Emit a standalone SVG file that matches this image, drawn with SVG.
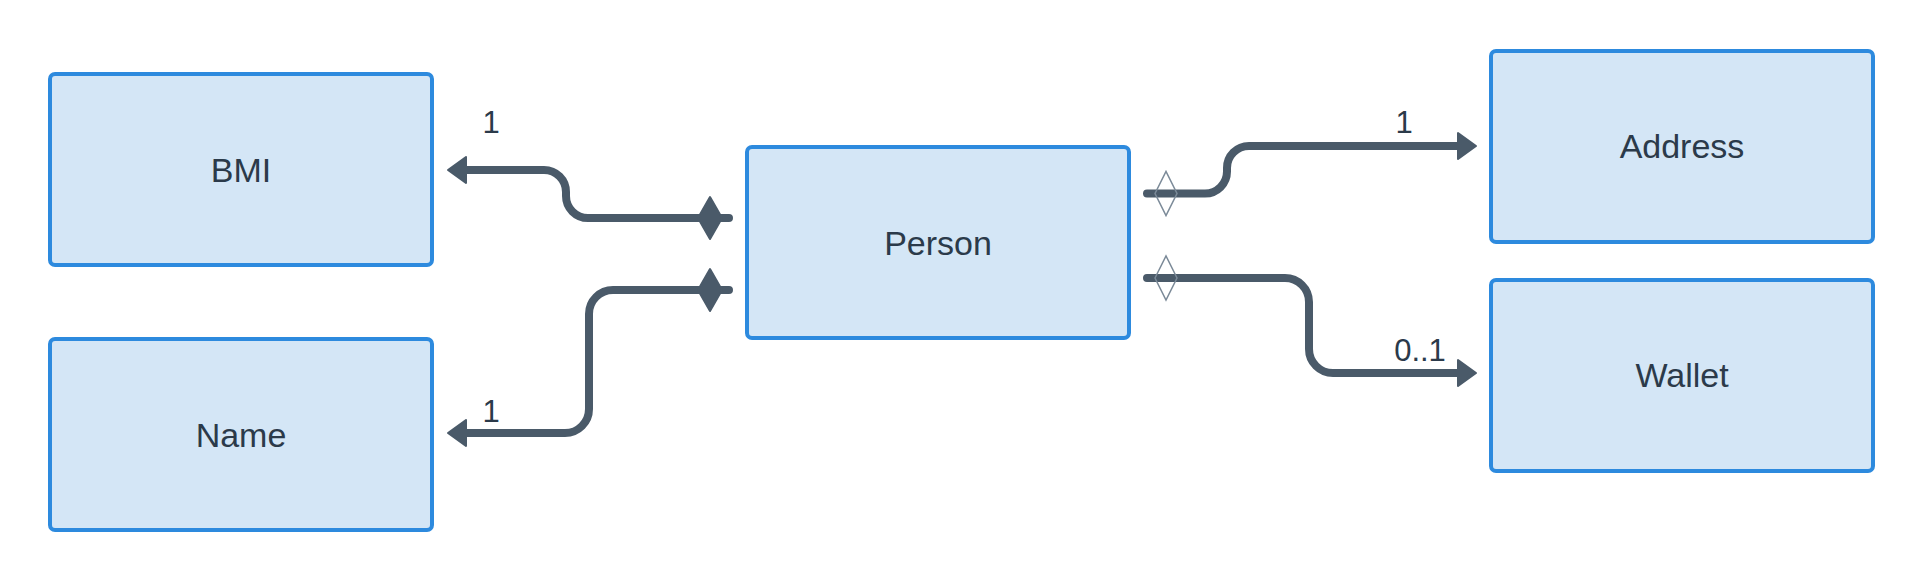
<svg xmlns="http://www.w3.org/2000/svg" width="1924" height="580" viewBox="0 0 1924 580">
<style>
.box{fill:#d4e6f6;stroke:#2d8ade;stroke-width:4}
.lbl{font-family:"Liberation Sans",Arial,sans-serif;font-size:34px;fill:#2b3a4a;text-anchor:middle}
.mult{font-family:"Liberation Sans",Arial,sans-serif;font-size:31px;fill:#2b3a4a;text-anchor:middle}
.conn{fill:none;stroke:#4a5a69;stroke-width:8;stroke-linecap:round;stroke-linejoin:round}
</style>
<defs>
<marker id="arrow" markerUnits="userSpaceOnUse" markerWidth="40" markerHeight="40" viewBox="-10 -20 30 40" refX="0" refY="0" orient="auto" overflow="visible">
<path d="M14,0 L-4,-13 L-4,13 Z" fill="#4a5a69" stroke="#4a5a69" stroke-width="2" stroke-linejoin="round"/>
</marker>
<marker id="diamondFilled" markerUnits="userSpaceOnUse" markerWidth="60" markerHeight="60" viewBox="-5 -30 50 60" refX="0" refY="0" orient="auto" overflow="visible">
<path d="M7,0 L19,-21 L31,0 L19,21 Z" fill="#4a5a69" stroke="#4a5a69" stroke-width="2" stroke-linejoin="round"/>
</marker>
<marker id="diamondOpen" markerUnits="userSpaceOnUse" markerWidth="60" markerHeight="60" viewBox="-5 -30 50 60" refX="0" refY="0" orient="auto" overflow="visible">
<path d="M8,0 L19,-22 L30,0 L19,22 Z" fill="none" stroke="#7b8a98" stroke-width="1.5"/>
</marker>
</defs>
<rect width="1924" height="580" fill="#ffffff"/>
<g id="connectors">
<path class="conn" d="M 729 218 H 588 A 22 22 0 0 1 566 196 V 192 A 22 22 0 0 0 544 170 H 462" marker-start="url(#diamondFilled)" marker-end="url(#arrow)"/>
<path class="conn" d="M 729 290 H 613 A 24 24 0 0 0 589 314 V 409 A 24 24 0 0 1 565 433 H 462" marker-start="url(#diamondFilled)" marker-end="url(#arrow)"/>
<path class="conn" d="M 1147 193.5 H 1205 A 22 22 0 0 0 1227 171.5 V 168 A 22 22 0 0 1 1249 146 H 1462" marker-start="url(#diamondOpen)" marker-end="url(#arrow)"/>
<path class="conn" d="M 1147 278 H 1285 A 24 24 0 0 1 1309 302 V 349 A 24 24 0 0 0 1333 373 H 1462" marker-start="url(#diamondOpen)" marker-end="url(#arrow)"/>
<text class="mult" x="491" y="133">1</text>
<text class="mult" x="491" y="422">1</text>
<text class="mult" x="1404" y="133">1</text>
<text class="mult" x="1420" y="361">0..1</text>
</g>
<g id="BMI">
<rect class="box" x="50" y="74" width="382" height="191" rx="5"/>
<text class="lbl" x="241" y="181.5">BMI</text>
</g>
<g id="Name">
<rect class="box" x="50" y="339" width="382" height="191" rx="5"/>
<text class="lbl" x="241" y="446.5">Name</text>
</g>
<g id="Person">
<rect class="box" x="747" y="147" width="382" height="191" rx="5"/>
<text class="lbl" x="938" y="254.5">Person</text>
</g>
<g id="Address">
<rect class="box" x="1491" y="51" width="382" height="191" rx="5"/>
<text class="lbl" x="1682" y="158">Address</text>
</g>
<g id="Wallet">
<rect class="box" x="1491" y="280" width="382" height="191" rx="5"/>
<text class="lbl" x="1682" y="387">Wallet</text>
</g>
</svg>
